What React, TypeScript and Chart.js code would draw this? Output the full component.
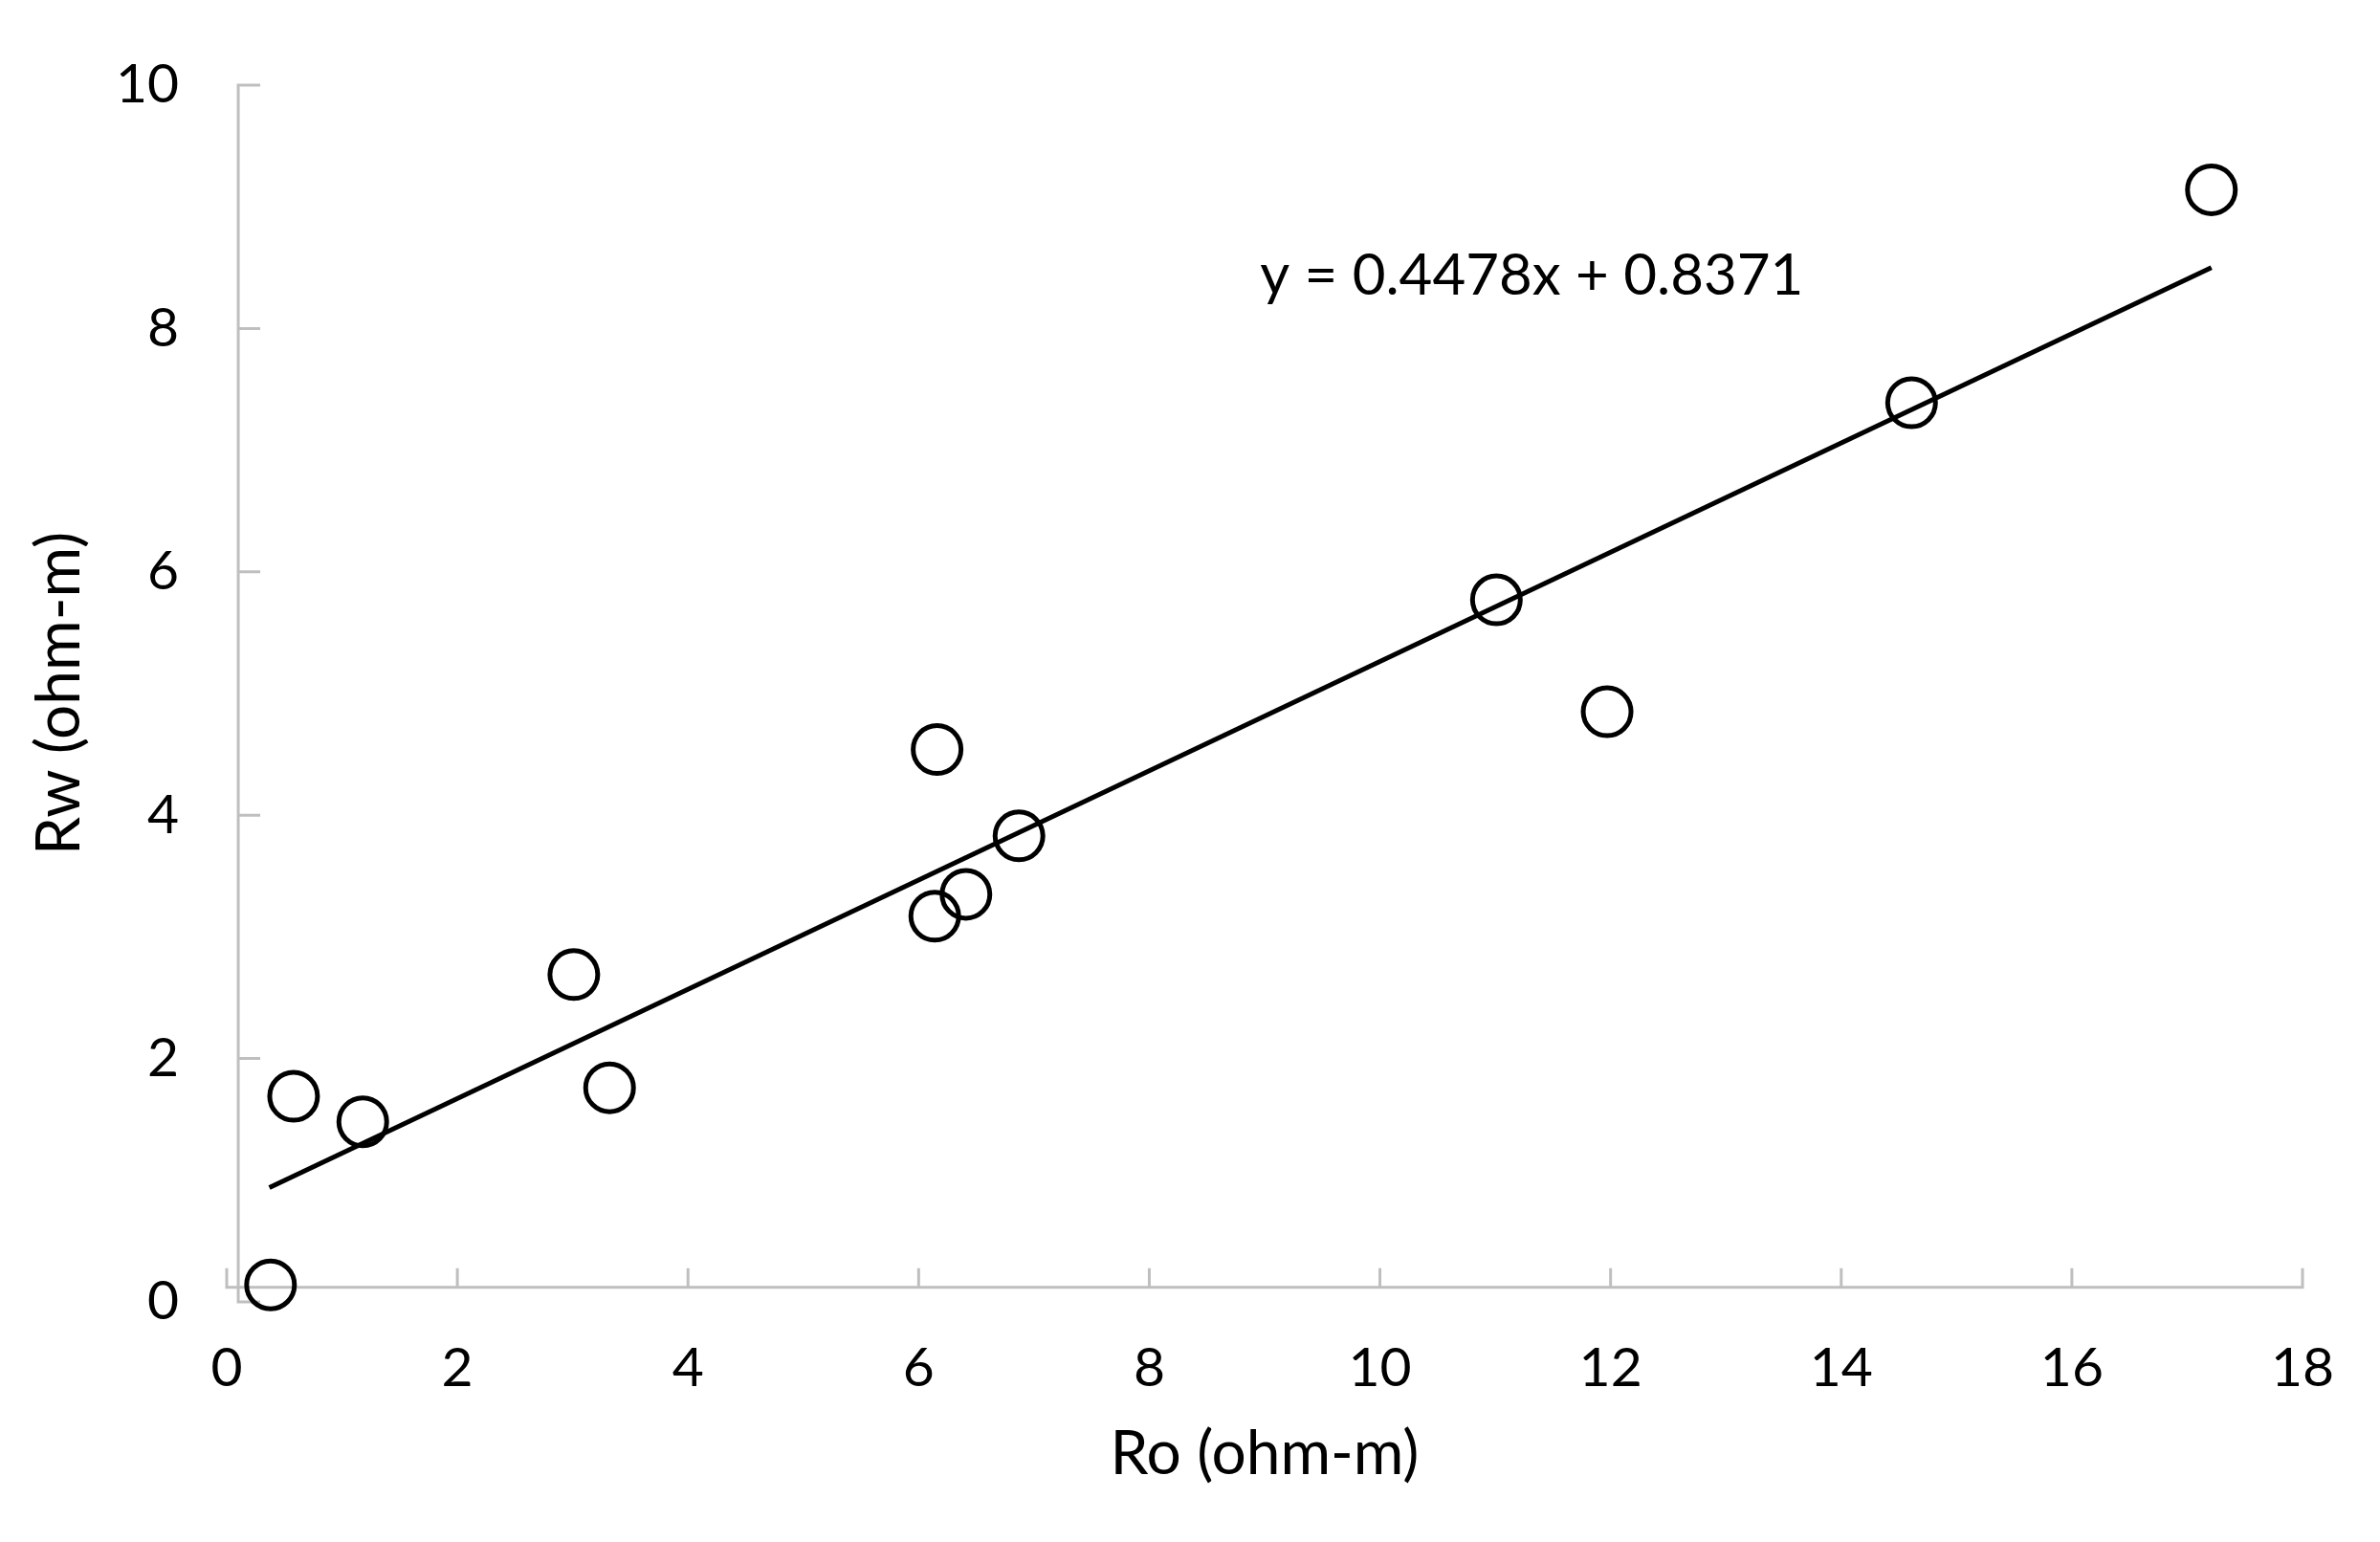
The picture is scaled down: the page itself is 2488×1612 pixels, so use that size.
import { useEffect, useRef } from "react";
import { Chart, registerables } from "chart.js";

Chart.register(...registerables);

// ---- data ----
const roValues = [0.38, 0.58, 1.18, 3.01, 3.32, 6.16, 6.14, 6.41, 6.87, 11.01, 11.97, 14.61, 17.21];
const rwValues = [0.14, 1.69, 1.48, 2.69, 1.76, 4.54, 3.17, 3.35, 3.83, 5.77, 4.85, 7.39, 9.14];

// trend line end points as drawn in the reference
const trendX = [0.37, 17.21];
const trendY = [0.94, 8.5];

const xAxisTitle = "Ro (ohm-m)";
const yAxisTitle = "Rw (ohm-m)";
const xRange = [0, 18];
const yRange = [0, 10];
const xStep = 2;
const yStep = 2;

const equationLabel = "y = 0.4478x + 0.8371";
const equationAnchor = { x: 8.96, y: 8.43 };
const axisCross = { x: 0.1, y: 0.12 };

const FONT = "Lato, 'Open Sans', sans-serif";
const TEXT = "#000000";
const AXIS = "#bfbfbf";

export default function App() {
  const ref = useRef<HTMLCanvasElement>(null);

  useEffect(() => {
    document.body.style.margin = "0";
    const canvas = ref.current!;

    const points = roValues.map((x, i) => ({ x, y: rwValues[i] }));
    const trend = trendX.map((x, i) => ({ x, y: trendY[i] }));

    const axesPlugin = {
      id: "excelAxes",
      beforeDatasetsDraw(chart: any) {
        const { ctx } = chart;
        const xs = chart.scales.x;
        const ys = chart.scales.y;
        const ax = xs.getPixelForValue(axisCross.x);
        const ay = ys.getPixelForValue(axisCross.y);
        ctx.save();
        ctx.strokeStyle = AXIS;
        ctx.lineWidth = 3;
        ctx.beginPath();
        ctx.moveTo(ax, ys.getPixelForValue(ys.max) - 1.5);
        ctx.lineTo(ax, ys.getPixelForValue(ys.min) + 1.5);
        ys.ticks.forEach((t: any) => {
          const py = ys.getPixelForValue(t.value);
          ctx.moveTo(ax, py);
          ctx.lineTo(ax + 23, py);
        });
        ctx.moveTo(xs.getPixelForValue(xs.min) - 1.5, ay);
        ctx.lineTo(xs.getPixelForValue(xs.max) + 1.5, ay);
        xs.ticks.forEach((t: any) => {
          const px = xs.getPixelForValue(t.value);
          ctx.moveTo(px, ay);
          ctx.lineTo(px, ay - 20);
        });
        ctx.stroke();
        ctx.restore();
      },
      afterDatasetsDraw(chart: any) {
        const { ctx } = chart;
        const xs = chart.scales.x;
        const ys = chart.scales.y;
        ctx.save();
        ctx.fillStyle = TEXT;
        ctx.font = `60px ${FONT}`;
        ctx.textAlign = "left";
        ctx.textBaseline = "middle";
        ctx.fillText(
          equationLabel,
          xs.getPixelForValue(equationAnchor.x),
          ys.getPixelForValue(equationAnchor.y)
        );
        ctx.restore();
      },
    };

    const chart = new Chart(canvas, {
      type: "scatter",
      data: {
        datasets: [
          {
            label: "Rw",
            data: points,
            pointStyle: "circle",
            pointRadius: 25,
            pointHoverRadius: 25,
            borderWidth: 5,
            pointBorderWidth: 5,
            borderColor: "#000000",
            pointBorderColor: "#000000",
            backgroundColor: "rgba(0,0,0,0)",
            pointBackgroundColor: "rgba(0,0,0,0)",
            clip: false,
          } as any,
          {
            label: "Trend",
            data: trend,
            showLine: true,
            borderColor: "#000000",
            borderWidth: 5,
            pointRadius: 0,
            fill: false,
            clip: false,
          } as any,
        ],
      },
      options: {
        animation: false,
        responsive: false,
        maintainAspectRatio: false,
        devicePixelRatio: 1,
        layout: { padding: { top: 89, right: 81, left: 0, bottom: 0 } },
        plugins: {
          legend: { display: false },
          tooltip: { enabled: false },
        },
        scales: {
          x: {
            type: "linear",
            min: xRange[0],
            max: xRange[1],
            afterFit: (s: any) => {
              s.height = 251;
            },
            ticks: {
              stepSize: xStep,
              color: TEXT,
              font: { family: FONT, size: 57 },
              padding: 35,
              maxRotation: 0,
            },
            grid: { display: false, drawTicks: false },
            border: { display: false },
            title: {
              display: true,
              text: xAxisTitle,
              color: TEXT,
              font: { family: FONT, size: 64 },
              padding: { top: 0, bottom: 53 },
            },
          },
          y: {
            type: "linear",
            min: yRange[0],
            max: yRange[1],
            afterFit: (s: any) => {
              s.width = 237;
            },
            ticks: {
              stepSize: yStep,
              color: TEXT,
              font: { family: FONT, size: 57 },
              padding: 50,
            },
            grid: { display: false, drawTicks: false },
            border: { display: false },
            title: {
              display: true,
              text: yAxisTitle,
              color: TEXT,
              font: { family: FONT, size: 64 },
              padding: { top: 24, bottom: 0 },
            },
          },
        },
      },
      plugins: [axesPlugin],
    });

    return () => chart.destroy();
  }, []);

  return (
    <canvas
      ref={ref}
      width={2488}
      height={1612}
      style={{ position: "fixed", left: 0, top: 0, width: 2488, height: 1612, background: "#ffffff" }}
    />
  );
}
